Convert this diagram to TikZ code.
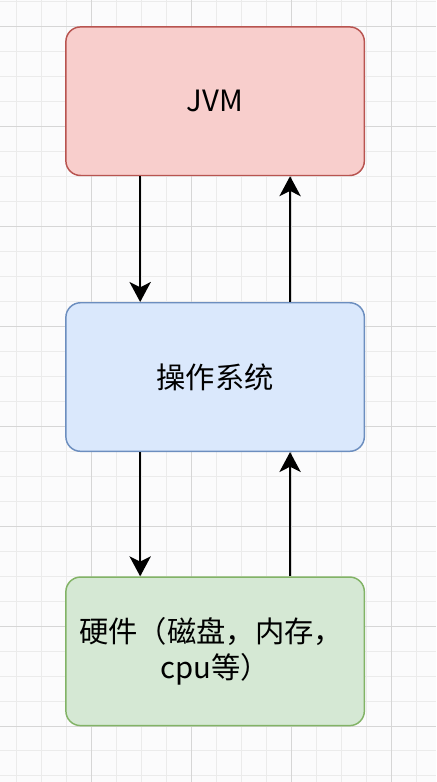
\documentclass[tikz,border=0pt]{standalone}
\usepackage{fontspec}
\setmainfont{Noto Sans CJK SC}
\usetikzlibrary{arrows.meta}
\definecolor{paper}{HTML}{FBFBFC}
\definecolor{gridmin}{HTML}{EBEBEB}
\definecolor{gridmaj}{HTML}{D6D6D6}
\definecolor{jvmfill}{HTML}{F8CECC}
\definecolor{jvmline}{HTML}{B85450}
\definecolor{osfill}{HTML}{DAE8FC}
\definecolor{osline}{HTML}{6C8EBF}
\definecolor{hwfill}{HTML}{D5E8D4}
\definecolor{hwline}{HTML}{82B366}
\begin{document}
\begin{tikzpicture}[x=0.75pt,y=-0.75pt,>={Stealth[length=15pt,width=16pt,inset=4pt]},
  box/.style={draw,line width=1.1pt,rounded corners=11pt,minimum width=224pt,minimum height=111.5pt,
    font=\fontsize{22}{26.5}\selectfont,align=center},
  link/.style={->,line width=1.6pt}]
\fill[paper] (0,0) rectangle (436,782);
\foreach\x in {16,41,...,416} \draw[gridmin] (\x,0) -- (\x,782);
\foreach\y in {1,26,...,776} \draw[gridmin] (0,\y) -- (436,\y);
\foreach\x in {91,191,...,391} \draw[gridmaj] (\x,0) -- (\x,782);
\foreach\y in {26,126,...,726} \draw[gridmaj] (0,\y) -- (436,\y);
\node[box,draw=jvmline,fill=jvmfill] (jvm) at (215,101) {JVM};
\node[box,draw=osline,fill=osfill] (os) at (215,377) {操作系统};
\node[box,draw=hwline,fill=hwfill] (hw) at (215,651.5) {硬件（磁盘，内存，\hspace*{6pt}\\cpu等）};
\foreach\a/\b in {jvm/os, os/hw}
 {\draw[link] ([xshift=-56.25pt]\a.south) -- ([xshift=-56.25pt]\b.north);
  \draw[link] ([xshift=56.25pt]\b.north) -- ([xshift=56.25pt]\a.south);};
\end{tikzpicture}
\end{document}
